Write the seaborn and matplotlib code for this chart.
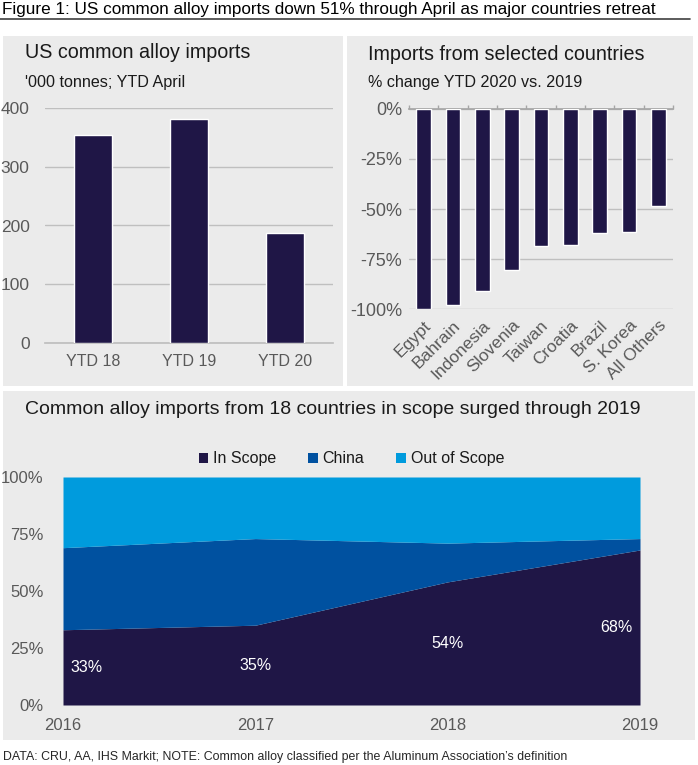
import numpy as np
import matplotlib
matplotlib.use("Agg")
import matplotlib.pyplot as plt
from matplotlib.patches import Rectangle
from matplotlib.lines import Line2D
from matplotlib.ticker import FuncFormatter, FixedLocator
import seaborn as sns

sns.set_theme(style="white")
plt.rcParams['font.family'] = ['Liberation Sans', 'DejaVu Sans']

# data
ytd_labels = ['YTD 18', 'YTD 19', 'YTD 20']
ytd_values = [354, 381, 188]

countries = ['Egypt', 'Bahrain', 'Indonesia', 'Slovenia', 'Taiwan',
             'Croatia', 'Brazil', 'S. Korea', 'All Others']
pct_change = [-100, -98, -91, -80.5, -68.5, -67.7, -62, -61.5, -48.5]

years = [2016, 2017, 2018, 2019]
in_scope = [33, 35, 54, 68]
china = [36, 38, 17, 5]
out_scope = [31, 27, 29, 27]

DARK = '#1f1646'
MID = '#0051a0'
LIGHT = '#009bdd'
PANEL = '#ebebeb'
GRID = '#bfbfbf'
TICK = '#595959'

W, H = 698, 765
fig = plt.figure(figsize=(W / 100, H / 100), dpi=100)
fig.patch.set_facecolor('white')


def rect(l, t, r, b):
    return [l / W, 1 - b / H, (r - l) / W, (b - t) / H]


def fx(x):
    return x / W


def fy(y):
    return 1 - y / H


# panel backgrounds
for l, t, r, b in [(3, 36, 343, 386), (347, 36, 693, 386), (3, 391, 695, 740)]:
    fig.add_artist(Rectangle((fx(l), fy(b)), (r - l) / W, (b - t) / H,
                             transform=fig.transFigure, facecolor=PANEL,
                             edgecolor='none', zorder=0))

# figure title and rule
fig.text(fx(2), fy(9.5), 'Figure 1: US common alloy imports down 51% through April as major countries retreat',
         fontsize=12.3, color='black', ha='left', va='center')
fig.add_artist(Line2D([0, fx(690)], [fy(18.5), fy(18.5)], transform=fig.transFigure,
                      color='#404040', linewidth=1.2))

# ---- top-left: bars
ax1 = fig.add_axes(rect(45, 108, 333, 343))
ax1.set_facecolor('none')
sns.barplot(x=ytd_labels, y=ytd_values, color=DARK, width=0.4, saturation=1, ax=ax1, zorder=3)
ax1.set_ylim(0, 400)
ax1.set_xlim(-0.5, 2.5)
ax1.set_yticks([0, 100, 200, 300, 400])
ax1.yaxis.grid(True, color=GRID, linewidth=1)
ax1.set_axisbelow(True)
for s in ['top', 'right', 'left']:
    ax1.spines[s].set_visible(False)
ax1.spines['bottom'].set_color(GRID)
ax1.tick_params(axis='both', length=0, labelcolor=TICK)
ax1.tick_params(axis='y', pad=11, labelsize=12.5)
ax1.tick_params(axis='x', pad=8, labelsize=11.5)
ax1.set_xlabel('')
ax1.set_ylabel('')
fig.text(fx(25), fy(53), 'US common alloy imports', fontsize=14.2, color='#1a1a1a', va='center')
fig.text(fx(25), fy(82), "'000 tonnes; YTD April", fontsize=11.6, color='#1a1a1a', va='center')

# ---- top-right: % change
ax2 = fig.add_axes(rect(409, 108.7, 673, 309.3))
ax2.set_facecolor('none')
sns.barplot(x=countries, y=pct_change, color=DARK, width=0.5, saturation=1, ax=ax2, zorder=3)
ax2.set_ylim(-100, 0)
ax2.set_xlim(-0.5, 8.5)
ax2.set_yticks([-100, -75, -50, -25, 0])
ax2.yaxis.set_major_formatter(FuncFormatter(lambda v, p: f'{int(v)}%'))
ax2.yaxis.grid(True, color=GRID, linewidth=1)
ax2.set_axisbelow(True)
for s in ['right', 'left', 'bottom']:
    ax2.spines[s].set_visible(False)
ax2.spines['top'].set_color('#a6a6a6')
ax2.xaxis.set_minor_locator(FixedLocator(np.arange(-0.5, 9.0, 1.0)))
ax2.tick_params(axis='x', which='minor', top=True, bottom=False, length=3,
                direction='out', color='#a6a6a6')
ax2.tick_params(axis='x', which='major', length=0, pad=6, labelsize=12.5)
ax2.tick_params(axis='both', labelcolor=TICK)
ax2.tick_params(axis='y', length=0, pad=5, labelsize=13)
plt.setp(ax2.get_xticklabels(), rotation=45, ha='right', rotation_mode='anchor')
ax2.set_xlabel('')
ax2.set_ylabel('')
fig.text(fx(368), fy(55), 'Imports from selected countries', fontsize=14.2, color='#1a1a1a', va='center')
fig.text(fx(368), fy(82), '% change YTD 2020 vs. 2019', fontsize=11.6, color='#1a1a1a', va='center')

# ---- bottom: stacked area
ax3 = fig.add_axes(rect(63, 477, 640, 705))
ax3.set_facecolor('none')
ax3.stackplot(years, in_scope, china, out_scope, colors=[DARK, MID, LIGHT],
              labels=['In Scope', 'China', 'Out of Scope'], linewidth=0)
ax3.set_xlim(2016, 2019)
ax3.set_ylim(0, 100)
ax3.set_xticks(years)
ax3.set_yticks([0, 25, 50, 75, 100])
ax3.yaxis.set_major_formatter(FuncFormatter(lambda v, p: f'{int(v)}%'))
sns.despine(ax=ax3, left=True, bottom=True)
ax3.tick_params(axis='both', length=0, labelcolor=TICK)
ax3.tick_params(axis='y', pad=14, labelsize=12)
ax3.tick_params(axis='x', pad=9, labelsize=12)

offsets = [(0.04, 'left'), (0.0, 'center'), (0.0, 'center'), (-0.04, 'right')]
for yr, v, (dx, ha) in zip(years, in_scope, offsets):
    ax3.text(yr + dx, v / 2, f'{v}%', color='white', fontsize=11.5, ha=ha, va='center')

ax3.legend(loc='center', bbox_to_anchor=(0.5, (705 - 459) / (705 - 477)), ncol=3,
           frameon=False, fontsize=11.5, handlelength=0.6, handleheight=0.6,
           handletextpad=0.3, columnspacing=2.0, labelcolor='#1a1a1a')

fig.text(fx(25), fy(410), 'Common alloy imports from 18 countries in scope surged through 2019',
         fontsize=14, color='#1a1a1a', va='center')
fig.text(fx(3), fy(757), "DATA: CRU, AA, IHS Markit; NOTE: Common alloy classified per the Aluminum Association’s definition",
         fontsize=8.9, color='#262626', va='center')

fig.savefig('out.png', dpi=100)
